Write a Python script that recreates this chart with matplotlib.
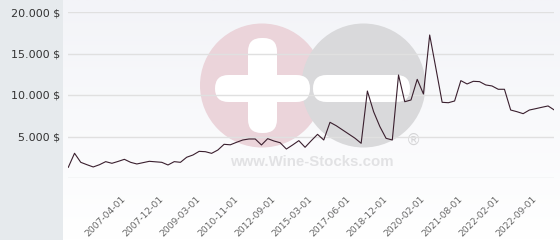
import matplotlib
matplotlib.use('Agg')
import matplotlib.pyplot as plt
import numpy as np
from matplotlib.patches import Circle, FancyBboxPatch, Rectangle
from matplotlib.colors import LinearSegmentedColormap

# prix par point (categorie)
valeurs = [1290, 2980, 1890, 1600, 1330, 1600, 1970, 1770, 2000, 2250,
           1890, 1690, 1850, 2010, 1950, 1890, 1570, 1970, 1890, 2500,
           2770, 3210, 3170, 2970, 3370, 4060, 4000, 4300, 4580, 4700,
           4700, 3980, 4740, 4460, 4250, 3490, 3980, 4500, 3700, 4500,
           5260, 4580, 6710, 6300, 5800, 5300, 4800, 4180, 10480, 7990,
           6200, 4780, 4580, 12410, 9190, 9400, 11890, 10120, 17230, 13200,
           9120, 9070, 9280, 11730, 11330, 11650, 11610, 11210, 11090, 10690,
           10690, 8190, 7990, 7750, 8190, 8350, 8520, 8680, 8190]
pos_dates = [9, 15, 21, 27, 33, 39, 45, 51, 57, 63, 69, 75]
dates = ['2007-04-01', '2007-12-01', '2009-03-01', '2010-11-01', '2012-09-01',
         '2015-03-01', '2017-06-01', '2018-12-01', '2020-02-01', '2021-08-01',
         '2022-02-01', '2022-09-01']
y_ticks = [5000, 10000, 15000, 20000]
y_labels = ['5.000 $', '10.000 $', '15.000 $', '20.000 $']

W, H = 560, 240
fig = plt.figure(figsize=(W / 100, H / 100), dpi=100)
fig.patch.set_facecolor('white')

# fond + filigrane, en coordonnees pixels
bg = fig.add_axes([0, 0, 1, 1], zorder=0)
grad = np.linspace(0, 1, 100).reshape(-1, 1)
bg.imshow(grad, cmap=LinearSegmentedColormap.from_list('g', ['#f3f4f8', '#ffffff']),
          extent=(63, W, H, 0), aspect='auto', origin='upper')
bg.set_xlim(0, W)
bg.set_ylim(H, 0)
bg.axis('off')
bg.add_patch(Rectangle((0, 0), 63, H, color='#e6eaed', lw=0))

bg.add_patch(Circle((262, 85.5), 62, color='#ebd4da', lw=0))
bg.add_patch(Circle((363.5, 85.5), 62, color='#d9d9db', lw=0))
for (x0, y0, w, h) in [(248, 38, 29, 95), (215, 75, 95, 27), (313, 75, 97, 27)]:
    bg.add_patch(FancyBboxPatch((x0, y0), w, h, boxstyle='round,pad=0,rounding_size=13.5',
                                color='white', lw=0))
bg.text(312, 162, 'www.Wine-Stocks.com', color='#e2e2e4', fontsize=10.8,
        fontweight='bold', family='Liberation Sans', ha='center', va='center')
bg.text(413, 140, '®', color='#d5d5d7', fontsize=11, ha='center', va='center')

# graphique
ax = fig.add_axes([68.3 / W, 1 - 178 / H, 486 / W, 166 / H], zorder=1)
ax.patch.set_alpha(0)
x = np.arange(len(valeurs))
ax.plot(x, valeurs, color='#3a1f2e', lw=0.8)
ax.set_xlim(0, len(valeurs) - 1)
ax.set_ylim(0, 20000)

ax.set_yticks([0] + y_ticks)
ax.set_yticklabels([''] + y_labels)
ax.yaxis.grid(True, color='#e0e0e0', lw=1)
ax.set_axisbelow(True)
ax.tick_params(axis='y', length=0, pad=6, labelsize=8, labelcolor='#333333')

ax.set_xticks(pos_dates)
ax.set_xticklabels(dates, rotation=45, ha='right', va='center', rotation_mode='anchor')
ax.tick_params(axis='x', length=0, pad=14, labelsize=6.6, labelcolor='#666666')

for s in ax.spines.values():
    s.set_visible(False)

plt.savefig('out.png', dpi=100)
plt.close()
